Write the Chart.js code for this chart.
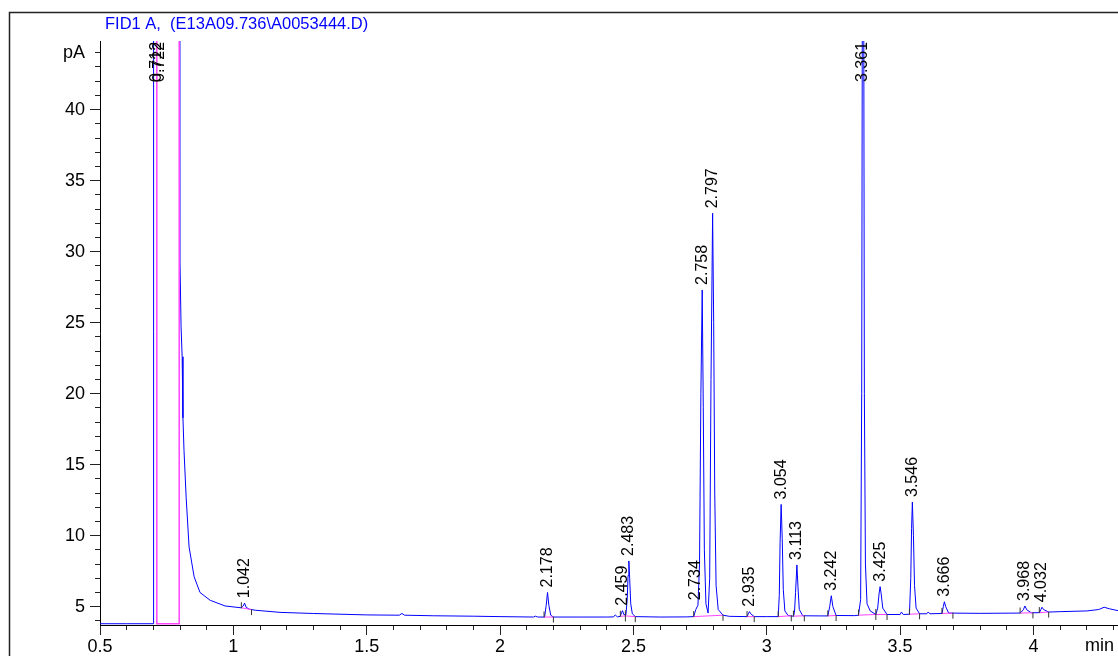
<!DOCTYPE html>
<html>
<head>
<meta charset="utf-8">
<title>FID1 A</title>
<script src="https://cdn.jsdelivr.net/npm/chart.js@4.4.1/dist/chart.umd.min.js"></script>
<style>
    html, body { margin: 0; padding: 0; background: #fff; overflow: hidden; }
    #wrap { position: relative; width: 1118px; height: 656px; }
</style>
</head>
<body>
<div id="wrap"><canvas id="fid-chart"></canvas></div>
<script>
const chartTitle = 'FID1 A,  (E13A09.736\\A0053444.D)';
const yUnit = 'pA';
const xUnit = 'min';

// signal trace (time in min, signal in pA)
const traceTime = [
    0.500, 0.600, 0.699, 0.701, 0.794, 0.800, 0.804, 0.808, 0.811, 0.815, 0.823, 0.834, 0.853, 0.875, 0.913, 0.969,
    1.030, 1.037, 1.042, 1.048, 1.060, 1.082, 1.175, 1.300, 1.500, 1.622, 1.632, 1.642, 1.750, 1.900, 2.000,
    2.125, 2.133, 2.141, 2.167, 2.173, 2.178, 2.183, 2.190, 2.200, 2.300, 2.400, 2.426, 2.432, 2.440,
    2.451, 2.456, 2.459, 2.464, 2.472, 2.477, 2.480, 2.483, 2.486, 2.490, 2.496, 2.507, 2.600, 2.700,
    2.726, 2.734, 2.742, 2.748, 2.753, 2.758, 2.762, 2.766, 2.772, 2.780, 2.786, 2.791, 2.797, 2.801, 2.805, 2.810, 2.818, 2.836, 2.860,
    2.926, 2.931, 2.935, 2.940, 2.953, 3.000, 3.043, 3.047, 3.050, 3.054, 3.058, 3.062, 3.068, 3.080,
    3.100, 3.104, 3.108, 3.113, 3.117, 3.122, 3.135, 3.200, 3.229, 3.236, 3.242, 3.248, 3.260, 3.330,
    3.344, 3.352, 3.356, 3.359, 3.361, 3.363, 3.366, 3.370, 3.376, 3.388, 3.409, 3.416, 3.421, 3.425, 3.429, 3.435, 3.451,
    3.500, 3.505, 3.512, 3.535, 3.540, 3.543, 3.546, 3.550, 3.554, 3.560, 3.573, 3.600, 3.605, 3.612,
    3.657, 3.662, 3.666, 3.671, 3.682, 3.800, 3.950, 3.962, 3.968, 3.975, 3.992,
    4.022, 4.028, 4.032, 4.038, 4.057, 4.100, 4.200, 4.245, 4.265, 4.285, 4.317
];
const traceSignal = [
    3.80, 3.80, 3.80, 400, 400, 29.2, 24.7, 22.6, 18.3, 16.0, 12.7, 9.2, 7.1, 6.0, 5.45, 5.05,
    4.92, 5.05, 5.25, 4.95, 4.82, 4.75, 4.60, 4.52, 4.42, 4.40, 4.52, 4.40, 4.36, 4.33, 4.30,
    4.27, 4.33, 4.27, 4.27, 5.10, 6.00, 5.10, 4.40, 4.27, 4.27, 4.27, 4.28, 4.42, 4.28,
    4.32, 4.60, 4.72, 4.45, 4.42, 5.60, 7.20, 8.22, 7.00, 5.20, 4.50, 4.30, 4.27, 4.28,
    4.30, 4.80, 5.10, 8.00, 20.0, 27.3, 19.0, 9.0, 5.20, 4.55, 7.0, 21.0, 32.7, 25.0, 13.0, 6.5, 4.80, 4.40, 4.32,
    4.30, 4.50, 4.65, 4.50, 4.30, 4.30, 4.30, 5.80, 9.50, 12.2, 9.80, 6.20, 4.70, 4.38,
    4.33, 4.60, 6.00, 7.94, 6.40, 4.80, 4.36, 4.35, 4.35, 5.00, 5.77, 5.00, 4.38, 4.37,
    4.40, 5.50, 20.0, 55.0, 60.0, 55.0, 20.0, 8.0, 5.20, 4.70, 4.45, 4.90, 5.90, 6.41, 5.90, 4.90, 4.45,
    4.45, 4.62, 4.45, 4.47, 7.00, 10.5, 12.37, 10.0, 6.50, 4.90, 4.50, 4.50, 4.62, 4.50,
    4.52, 5.00, 5.35, 5.00, 4.55, 4.53, 4.55, 4.78, 5.05, 4.78, 4.57,
    4.58, 4.80, 4.96, 4.80, 4.62, 4.65, 4.70, 4.80, 4.96, 4.85, 4.72
];

// peak retention time labels and apex heights (off-scale peaks are labelled at the top)
const peakLabels = ['0.712', '0.722', '1.042', '2.178', '2.459', '2.483', '2.734', '2.758', '2.797', '2.935',
    '3.054', '3.113', '3.242', '3.361', '3.425', '3.546', '3.666', '3.968', '4.032'];
const peakHeights = [400, 400, 5.25, 6.00, 4.72, 8.22, 5.10, 27.3, 32.7, 4.65,
    12.2, 7.94, 5.77, 60.0, 6.41, 12.37, 5.35, 5.05, 4.96];

// integration baselines (pink) with start / end marks
const intStart = [1.030, 2.165, 2.451, 2.470, 2.726, 2.926, 3.043, 3.100, 3.229, 3.344, 3.409, 3.535, 3.657, 3.950, 4.022];
const intEnd = [1.068, 2.200, 2.470, 2.507, 2.836, 2.953, 3.092, 3.141, 3.260, 3.409, 3.451, 3.573, 3.698, 3.998, 4.057];
const intStartLevel = [4.92, 4.27, 4.32, 4.35, 4.30, 4.30, 4.30, 4.33, 4.35, 4.40, 4.45, 4.47, 4.52, 4.55, 4.58];
const intEndLevel = [4.80, 4.27, 4.35, 4.30, 4.40, 4.30, 4.36, 4.36, 4.38, 4.45, 4.45, 4.50, 4.55, 4.57, 4.62];

// solvent peak integration box
const solventTime = [0.713, 0.797];
const solventLevel = 3.80;

const xTickLabels = ['0.5', '1', '1.5', '2', '2.5', '3', '3.5', '4'];
const yTickLabels = ['5', '10', '15', '20', '25', '30', '35', '40'];
const yUnitTick = 44;

const FONT = '"Liberation Sans", Arial, Helvetica, sans-serif';

function findLabel(list, value) {
    const hit = list.find(l => Math.abs(parseFloat(l) - value) < 1e-6);
    return hit === undefined ? null : hit;
}

const tracePoints = traceTime.map((t, i) => ({ x: t, y: traceSignal[i] }));

const baselinePoints = [];
intStart.forEach((t, i) => {
    baselinePoints.push({ x: t, y: intStartLevel[i] });
    baselinePoints.push({ x: intEnd[i], y: intEndLevel[i] });
    baselinePoints.push({ x: intEnd[i], y: null });
});

const solventPoints = [
    { x: solventTime[0], y: 100 },
    { x: solventTime[0], y: solventLevel },
    { x: solventTime[1], y: solventLevel },
    { x: solventTime[1], y: 100 }
];

const startMarks = intStart.map((t, i) => ({ x: t, y: intStartLevel[i] + 0.18 }));
const endMarks = intEnd.map((t, i) => ({ x: t, y: intEndLevel[i] - 0.18 }));

const chromPlugin = {
    id: 'chromDecor',
    beforeDraw(chart) {
        const ctx = chart.ctx;
        ctx.save();
        // outer frame
        ctx.strokeStyle = '#222';
        ctx.lineWidth = 1.5;
        ctx.beginPath();
        ctx.moveTo(9.5, chart.height);
        ctx.lineTo(9.5, 12.5);
        ctx.lineTo(chart.width, 12.5);
        ctx.stroke();
        // title
        ctx.fillStyle = '#0000ff';
        ctx.font = '16.5px ' + FONT;
        ctx.textAlign = 'left';
        ctx.textBaseline = 'alphabetic';
        ctx.fillText(chartTitle, 105, 29);
        ctx.restore();
    },
    afterDraw(chart) {
        const { ctx, chartArea, scales: { x, y } } = chart;
        ctx.save();
        // x unit
        ctx.fillStyle = '#000';
        ctx.font = '18px ' + FONT;
        ctx.textAlign = 'right';
        ctx.textBaseline = 'top';
        ctx.fillText(xUnit, chartArea.right - 4, chartArea.bottom + 12);
        // peak labels
        ctx.font = '16px ' + FONT;
        ctx.textAlign = 'left';
        ctx.textBaseline = 'middle';
        peakLabels.forEach((label, i) => {
            const px = x.getPixelForValue(parseFloat(label));
            const py = Math.max(y.getPixelForValue(peakHeights[i]) - 5, chartArea.top + 41);
            ctx.save();
            ctx.translate(px, py);
            ctx.rotate(-Math.PI / 2);
            ctx.fillText(label, 0, 0);
            ctx.restore();
        });
        ctx.restore();
    }
};

const ctx = document.getElementById('fid-chart').getContext('2d');
new Chart(ctx, {
    type: 'line',
    data: {
        datasets: [
            {
                label: 'FID1 A',
                data: tracePoints,
                borderColor: '#0000ff',
                borderWidth: 1,
                pointRadius: 0,
                tension: 0,
                order: 3
            },
            {
                label: 'baseline',
                data: baselinePoints,
                borderColor: '#ff44ff',
                borderWidth: 1,
                pointRadius: 0,
                spanGaps: false,
                order: 2
            },
            {
                label: 'solvent',
                data: solventPoints,
                borderColor: '#ff44ff',
                borderWidth: 1.5,
                pointRadius: 0,
                order: 2
            },
            {
                label: 'start',
                data: startMarks,
                showLine: false,
                pointStyle: 'line',
                pointRadius: 3,
                pointRotation: 90,
                pointBorderColor: '#333',
                pointBorderWidth: 1,
                order: 1
            },
            {
                label: 'end',
                data: endMarks,
                showLine: false,
                pointStyle: 'line',
                pointRadius: 3,
                pointRotation: 90,
                pointBorderColor: '#333',
                pointBorderWidth: 1,
                order: 1
            }
        ]
    },
    options: {
        responsive: true,
        maintainAspectRatio: false,
        animation: false,
        layout: { autoPadding: false, padding: { top: 41, left: 0, right: 0, bottom: 0 } },
        plugins: {
            legend: { display: false },
            tooltip: { enabled: false },
            title: { display: false }
        },
        scales: {
            x: {
                type: 'linear',
                min: 0.5,
                max: 4.317,
                afterFit: function (s) {
                    s.height = 31;
                    s.paddingLeft = 0;
                    s.paddingRight = 0;
                },
                border: { color: '#000', width: 1 },
                grid: {
                    drawOnChartArea: false,
                    tickLength: 10,
                    tickColor: '#222',
                    tickBorderDash: c => (c.tick && findLabel(xTickLabels, c.tick.value) !== null) ? [] : [4, 20],
                    tickBorderDashOffset: 0
                },
                ticks: {
                    stepSize: 0.1,
                    includeBounds: false,
                    autoSkip: false,
                    maxRotation: 0,
                    padding: 1,
                    color: '#000',
                    font: { family: FONT, size: 18 },
                    callback: v => findLabel(xTickLabels, v) || ''
                }
            },
            y: {
                type: 'linear',
                min: 3.71,
                max: 44.83,
                afterFit: function (s) {
                    s.width = 100;
                    s.paddingTop = 0;
                    s.paddingBottom = 0;
                },
                border: { color: '#000', width: 1 },
                grid: {
                    drawOnChartArea: false,
                    tickLength: 10,
                    tickColor: '#222',
                    tickBorderDash: c => (c.tick && findLabel(yTickLabels, c.tick.value) !== null) ? [] : [5, 5],
                    tickBorderDashOffset: c => (c.tick && findLabel(yTickLabels, c.tick.value) !== null) ? 0 : 5
                },
                ticks: {
                    stepSize: 1,
                    includeBounds: false,
                    autoSkip: false,
                    padding: 5,
                    color: '#000',
                    font: { family: FONT, size: 18 },
                    callback: v => v === yUnitTick ? yUnit : (findLabel(yTickLabels, v) || '')
                }
            }
        }
    },
    plugins: [chromPlugin]
});
</script>
</body>
</html>
